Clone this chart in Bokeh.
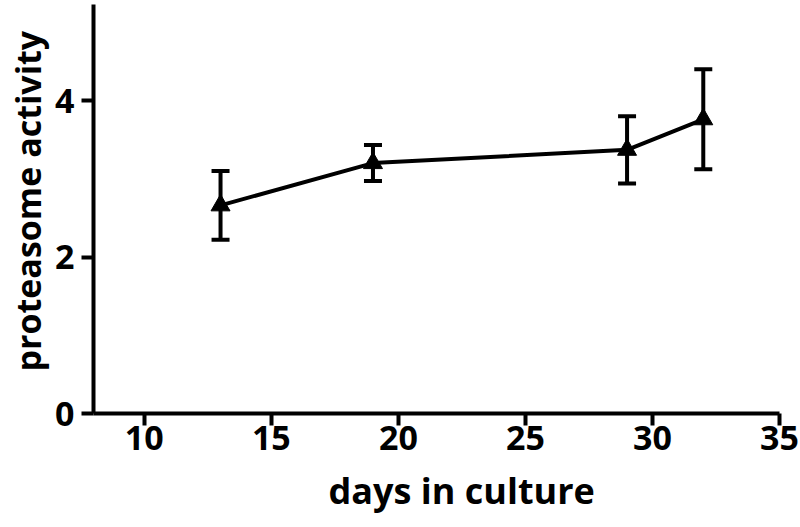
from bokeh.plotting import figure
from bokeh.models import ColumnDataSource, Whisker, TeeHead, FixedTicker, Title
from bokeh.embed import file_html
from bokeh.resources import INLINE

days = [13, 19, 29, 32]
activity = [2.66, 3.20, 3.37, 3.76]
error = [0.44, 0.23, 0.43, 0.64]
x_ticks = [10, 15, 20, 25, 30, 35]
y_ticks = [0, 2, 4]
x_title = "days in culture"
y_title = "proteasome activity"

src = ColumnDataSource(dict(
    x=days, y=activity,
    lo=[a - e for a, e in zip(activity, error)],
    hi=[a + e for a, e in zip(activity, error)],
))

FONT = "Open Sans"

p = figure(width=800, height=527, x_range=(8, 35), y_range=(0, 5.227),
           output_backend="svg", toolbar_location=None,
           min_border_left=93, min_border_right=21, min_border_top=4,
           min_border_bottom=114)
p.outline_line_color = None
p.xgrid.grid_line_color = None
p.ygrid.grid_line_color = None
p.background_fill_color = "white"

w = Whisker(source=src, base="x", upper="hi", lower="lo",
            line_width=4, line_color="black",
            upper_head=TeeHead(size=18, line_width=4, line_color="black"),
            lower_head=TeeHead(size=18, line_width=4, line_color="black"))
p.add_layout(w)

p.line("x", "y", source=src, line_width=4, line_color="black")
p.scatter("x", "y", source=src, marker="triangle", size=19,
          fill_color="black", line_color="black")

for ax in (p.xaxis[0], p.yaxis[0]):
    ax.axis_line_width = 4
    ax.axis_line_color = "black"
    ax.major_tick_line_width = 4
    ax.major_tick_line_color = "black"
    ax.major_tick_out = 12
    ax.major_tick_in = 0
    ax.minor_tick_line_color = None
    ax.major_label_text_font = FONT
    ax.major_label_text_font_style = "bold"
    ax.major_label_text_font_size = "34px"
    ax.major_label_text_color = "black"

p.xaxis[0].ticker = FixedTicker(ticks=x_ticks)
p.yaxis[0].ticker = FixedTicker(ticks=y_ticks)
p.xaxis[0].major_label_standoff = 0
p.yaxis[0].major_label_standoff = 7

p.add_layout(Title(text=x_title, align="left", offset=235, vertical_align="bottom",
                   standoff=22, text_font=FONT, text_font_style="bold",
                   text_font_size="36px", text_color="black"), "below")
p.add_layout(Title(text=y_title, align="left", offset=42, vertical_align="top",
                   standoff=0, text_font=FONT, text_font_style="bold",
                   text_font_size="34px", text_color="black"), "left")

open("out.html", "w").write(file_html(p, INLINE))
